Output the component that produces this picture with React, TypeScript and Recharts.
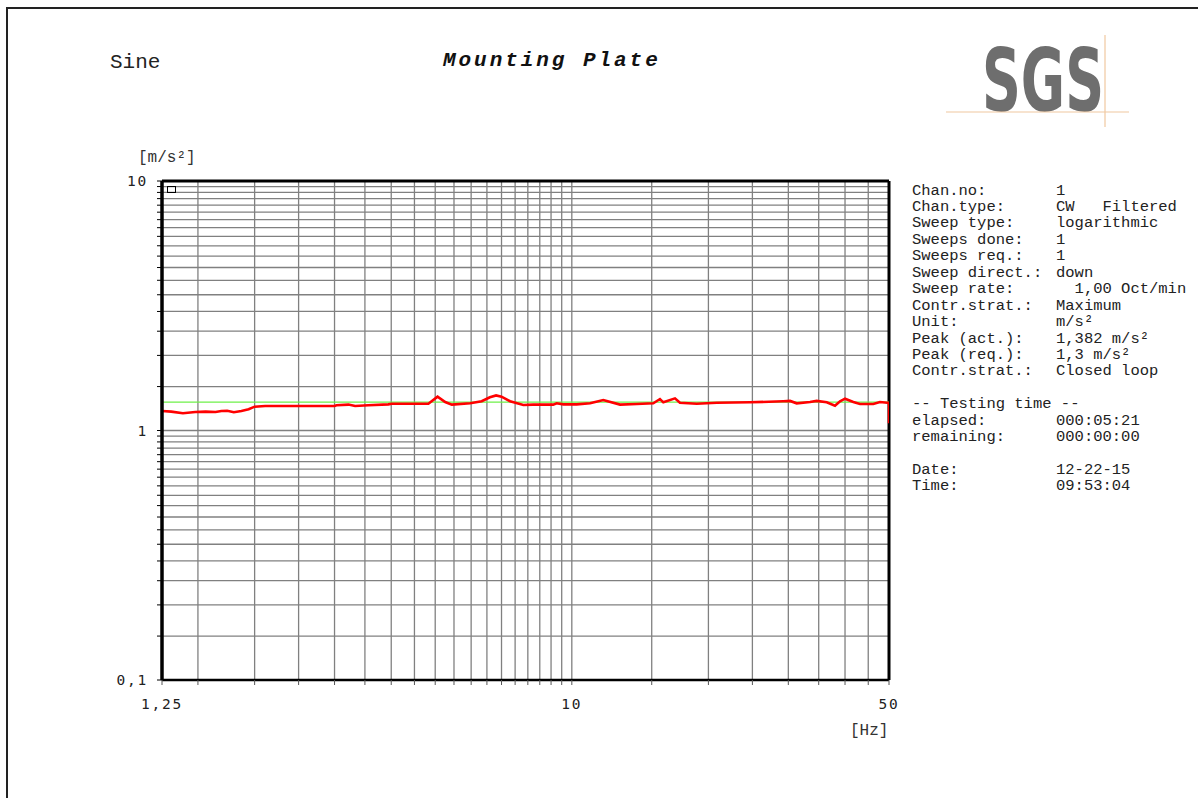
import { LineChart, Line, XAxis, YAxis, CartesianGrid, ReferenceLine } from "recharts";

const freqHz = [
  1.25, 1.31, 1.39, 1.48, 1.56, 1.64, 1.69, 1.74, 1.8, 1.87, 1.94, 2.0, 2.11, 2.52, 3.0, 3.03, 3.22,
  3.33, 3.56, 3.94, 4.01, 4.83, 5.06, 5.26, 5.44, 5.97, 6.33, 6.6, 6.81, 7.0, 7.31, 7.82, 8.22, 9.1,
  9.26, 9.58, 10.25, 10.97, 11.73, 12.77, 13.9, 15.12, 15.64, 15.91, 16.88, 17.31, 18.85, 20.86,
  24.7, 29.24, 30.26, 31.3, 33.49, 34.64, 36.45, 38.01, 39.0, 40.0, 41.72, 43.16, 46.16, 47.76,
  49.56, 50, 50,
];
const accelMs2 = [
  1.197, 1.19, 1.172, 1.186, 1.19, 1.186, 1.197, 1.2, 1.183, 1.197, 1.216, 1.246, 1.254, 1.254,
  1.254, 1.262, 1.27, 1.254, 1.262, 1.273, 1.28, 1.28, 1.366, 1.3, 1.27, 1.285, 1.31, 1.359, 1.382,
  1.366, 1.31, 1.266, 1.27, 1.27, 1.285, 1.273, 1.273, 1.285, 1.325, 1.27, 1.277, 1.285, 1.337,
  1.297, 1.345, 1.292, 1.28, 1.292, 1.297, 1.31, 1.314, 1.285, 1.3, 1.314, 1.297, 1.257, 1.31,
  1.341, 1.3, 1.277, 1.277, 1.3, 1.292, 1.29, 1.069,
];

// reference profile
const reqFreqHz = [1.25, 50];
const reqAccel = [1.3, 1.3];

const xTicks = [
  1.25, 1.5, 2, 2.5, 3, 3.5, 4, 4.5, 5, 5.5, 6, 6.5, 7, 7.5, 8, 8.5, 9, 9.5, 10, 15, 20, 25, 30,
  35, 40, 45, 50,
];
const yTicks = [
  0.1, 0.15, 0.2, 0.25, 0.3, 0.35, 0.4, 0.45, 0.5, 0.55, 0.6, 0.65, 0.7, 0.75, 0.8, 0.85, 0.9, 0.95,
  1, 1.5, 2, 2.5, 3, 3.5, 4, 4.5, 5, 5.5, 6, 6.5, 7, 7.5, 8, 8.5, 9, 9.5, 10,
];
const xLabelAt = [1.25, 10, 50];
const xLabelText = ["1,25", "10", "50"];
const yLabelAt = [0.1, 1, 10];
const yLabelText = ["0,1", "1", "10"];

const infoRows = [
  ["Chan.no:", "1"],
  ["Chan.type:", "CW   Filtered"],
  ["Sweep type:", "logarithmic"],
  ["Sweeps done:", "1"],
  ["Sweeps req.:", "1"],
  ["Sweep direct.:", "down"],
  ["Sweep rate:", "  1,00 Oct/min"],
  ["Contr.strat.:", "Maximum"],
  ["Unit:", "m/s²"],
  ["Peak (act.):", "1,382 m/s²"],
  ["Peak (req.):", "1,3 m/s²"],
  ["Contr.strat.:", "Closed loop"],
  ["", ""],
  ["-- Testing time --", ""],
  ["elapsed:", "000:05:21"],
  ["remaining:", "000:00:00"],
  ["", ""],
  ["Date:", "12-22-15"],
  ["Time:", "09:53:04"],
];

const MONO = '"Liberation Mono", "Courier New", monospace';
const TICK_FONT = '"DejaVu Sans Mono", monospace';

const actual = freqHz.map((f, i) => ({ f, a: accelMs2[i] }));
const required = reqFreqHz.map((f, i) => ({ f, a: reqAccel[i] }));

function XTick({ x, y, payload }: any) {
  const i = xLabelAt.indexOf(payload.value);
  if (i < 0) return <g />;
  return (
    <text x={x} y={y + 22} textAnchor="middle" fontFamily={TICK_FONT} fontSize={14.5}
      letterSpacing={1.8} fill="#222">
      {xLabelText[i]}
    </text>
  );
}

function YTick({ x, y, payload }: any) {
  const i = yLabelAt.indexOf(payload.value);
  if (i < 0) return <g />;
  return (
    <text x={x - 7} y={y} dy="0.36em" textAnchor="end" fontFamily={TICK_FONT} fontSize={14.5}
      letterSpacing={1.8} fill="#222">
      {yLabelText[i]}
    </text>
  );
}

export default function App() {
  return (
    <div style={{ position: "absolute", left: 0, top: 0, width: 1198, height: 798, overflow: "hidden", background: "#fff" }}>
      <div style={{ position: "absolute", left: 6, top: 7, width: 1210, height: 810, border: "2px solid #222" }} />

      <div style={{ position: "absolute", left: 0, top: 0 }}>
        <LineChart width={1198} height={798} margin={{ top: 181, right: 309, bottom: 88, left: 102 }}>
          <CartesianGrid stroke="#808080" strokeWidth={1.3} />
          <XAxis
            dataKey="f"
            type="number"
            scale="log"
            domain={[1.25, 50]}
            ticks={xTicks}
            interval={0}
            allowDataOverflow
            height={30}
            tickSize={5}
            tick={<XTick />}
            tickLine={{ stroke: "#555" }}
            axisLine={{ stroke: "#000", strokeWidth: 2.5 }}
          />
          <YAxis
            type="number"
            scale="log"
            domain={[0.1, 10]}
            ticks={yTicks}
            interval={0}
            allowDataOverflow
            width={60}
            tickSize={5}
            tick={<YTick />}
            tickLine={{ stroke: "#000" }}
            axisLine={{ stroke: "#000", strokeWidth: 3.5 }}
          />
          <ReferenceLine y={10} stroke="#000" strokeWidth={3} />
          <ReferenceLine x={50} stroke="#000" strokeWidth={3} />
          <Line data={required} dataKey="a" stroke="#6ef048" strokeWidth={1.2} dot={false}
            isAnimationActive={false} />
          <Line data={actual} dataKey="a" stroke="#ff0000" strokeWidth={2.6} dot={false}
            isAnimationActive={false} />
        </LineChart>
      </div>

      {/* little marker box in the plot corner */}
      <div style={{ position: "absolute", left: 167, top: 186, width: 7, height: 5, border: "1px solid #000" }} />

      <div style={{ position: "absolute", left: 110, top: 52, fontFamily: MONO, fontSize: 21, lineHeight: "21px", color: "#222" }}>
        Sine
      </div>
      <div style={{ position: "absolute", left: 443, top: 50, fontFamily: MONO, fontSize: 21, lineHeight: "21px",
        fontWeight: "bold", fontStyle: "italic", letterSpacing: 2.95, whiteSpace: "pre", color: "#111" }}>
        Mounting Plate
      </div>
      <div style={{ position: "absolute", left: 138, top: 150, fontFamily: MONO, fontSize: 16, lineHeight: "16px", color: "#333", whiteSpace: "pre" }}>
        [m/s²]
      </div>
      <div style={{ position: "absolute", left: 850, top: 723, fontFamily: MONO, fontSize: 16, lineHeight: "16px", color: "#333", whiteSpace: "pre" }}>
        [Hz]
      </div>

      <svg style={{ position: "absolute", left: 940, top: 20 }} width={258} height={120}>
        <text x={42} y={91} fontFamily='"Liberation Sans Narrow", "DejaVu Sans Condensed", "Liberation Sans", sans-serif'
          fontWeight="bold" fontSize={88} fill="#6e6e6e" textLength={122} lengthAdjust="spacingAndGlyphs">
          SGS
        </text>
        <line x1={6} y1={92} x2={189} y2={92} stroke="#f0c8a0" strokeWidth={1.2} />
        <line x1={165} y1={15} x2={165} y2={107} stroke="#f0c8a0" strokeWidth={1.2} />
      </svg>

      <div style={{ position: "absolute", left: 912, top: 182.6, fontFamily: MONO, fontSize: 15.5, lineHeight: "16.44px", color: "#222" }}>
        {infoRows.map((r, i) => (
          <div key={i} style={{ display: "flex", whiteSpace: "pre", height: 16.44 }}>
            <span style={{ width: 144, flex: "none" }}>{r[0]}</span>
            <span>{r[1]}</span>
          </div>
        ))}
      </div>
    </div>
  );
}
